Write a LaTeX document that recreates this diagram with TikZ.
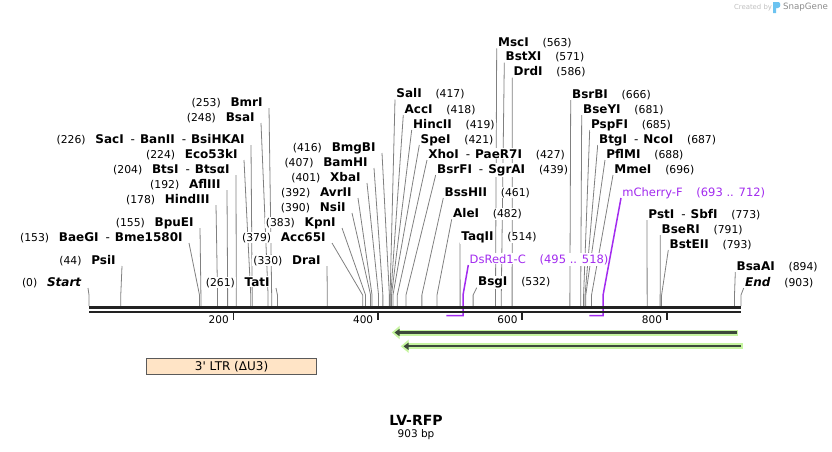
\documentclass[tikz,border=0pt]{standalone}
\usepackage{fontspec}
\setmainfont{DejaVu Sans}
\usetikzlibrary{arrows.meta, positioning, backgrounds}
\definecolor{csite}{HTML}{808080}
\definecolor{cruler}{HTML}{222222}
\definecolor{cprimer}{HTML}{A22BEF}
\definecolor{cfeat}{HTML}{C6F5A0}
\definecolor{cfeatline}{HTML}{3C4A3A}
\definecolor{cltr}{HTML}{FFE4C6}
\definecolor{cgrey}{HTML}{5A5A5A}
\definecolor{clogo}{HTML}{6CC3F0}
\newcommand{\dsh}{\hspace{7pt}\textmd{-}\hspace{5pt}}
\newcommand{\bpx}[1]{89+#1*0.72204}
\tikzset{
  every picture/.style={x=1pt, y=-1pt, line width=0.8pt},
  enz/.style={font=\fontsize{12}{14}\selectfont\bfseries, fill=white, inner sep=1pt},
  bpnum/.style={font=\fontsize{10.8}{13}\selectfont, fill=white, inner sep=1pt},
  lead/.style={draw=csite, line width=0.8pt},
  primer/.style={font=\fontsize{11.5}{13}\selectfont, text=cprimer, fill=white, inner sep=1pt},
  plead/.style={draw=cprimer, line width=1.5pt},
  feat/.style={draw=cfeat, line width=6pt, -{Triangle[length=8pt, width=13pt]}},
  featline/.style={draw=cfeatline, line width=2.3pt, -{Triangle[length=5pt, width=7pt]}},
  ltr/.style={draw=cgrey, fill=cltr, line width=0.9pt, minimum width=170pt, minimum height=16pt, inner sep=0pt, font=\fontsize{12}{14}\selectfont},
}

\begin{document}
\begin{tikzpicture}
  \useasboundingbox (0,0) rectangle (832,451);
  % cut sites, position left of the name
  \foreach \p/\lx/\ly/\nm/\nb in {0/83/282/{\textit{Start}}/(0), 44/117/260/PsiI/(44),
      153/184/237/{BaeGI\dsh Bme1580I}/(153), 155/195/222/BpuEI/(155), 178/211/199/HindIII/(178),
      192/222/184/AflIII/(192), 204/231/169/{BtsI\dsh BtsαI}/(204), 224/239/154/Eco53kI/(224),
      226/246/139/{SacI\dsh BanII\dsh BsiHKAI}/(226), 248/256/117/BsaI/(248), 253/264/102/BmrI/(253),
      261/271/282/TatI/(261), 330/322/260/DraI/(330), 379/327/237/Acc65I/(379), 383/337/222/KpnI/(383),
      390/347/207/NsiI/(390), 392/353/192/AvrII/(392), 401/362/177/XbaI/(401),
      407/369/162/BamHI/(407), 416/377/147/BmgBI/(416)}{
    \node[enz, anchor=base east] (c\p) at (\lx,\ly+4) {\nm};
    \node[bpnum, base left=7pt of c\p] (n\p) {\nb};
    \begin{scope}[on background layer]
      \draw[lead] ([xshift=5pt, yshift=-2pt]c\p.base east) -- ({\bpx{\p}},295) -- ({\bpx{\p}},306);
    \end{scope}
  }
  % cut sites, position right of the name
  \foreach \p/\lx/\ly/\nm/\nb in {417/395/93.5/SalI/(417), 418/403.3/109/AccI/(418),
      419/411.7/124/HincII/(419), 421/419.3/139/SpeI/(421), 427/427/154/{XhoI\dsh PaeR7I}/(427),
      439/435.7/169/{BsrFI\dsh SgrAI}/(439), 461/443.3/192/BssHII/(461), 482/451.7/213.3/AleI/(482),
      514/460/236.7/TaqII/(514), 532/476.7/281.7/BsgI/(532), 563/496.7/42.3/MscI/(563),
      571/504.3/56.7/BstXI/(571), 586/512.3/71.7/DrdI/(586), 666/570.7/94/BsrBI/(666),
      681/581.7/109/BseYI/(681), 685/589.7/124/PspFI/(685), 687/597.7/139/{BtgI\dsh NcoI}/(687),
      688/605/154/PflMI/(688), 696/613/169/MmeI/(696), 773/647/214/{PstI\dsh SbfI}/(773),
      791/660.3/229/BseRI/(791), 793/668.3/244/BstEII/(793), 894/735.3/266/BsaAI/(894),
      903/743.7/282/{\textit{End}}/(903)}{
    \node[enz, anchor=base west] (c\p) at (\lx,\ly+4) {\nm};
    \node[bpnum, base right=11pt of c\p] (n\p) {\nb};
    \begin{scope}[on background layer]
      \draw[lead] ([yshift=-2pt]c\p.base west) -- ({\bpx{\p}},295) -- ({\bpx{\p}},306);
    \end{scope}
  }
  % primers
  \node[primer, anchor=base west] (p495) at (468.3,263) {DsRed1-C};
  \node[primer, base right=11pt of p495] (r495) {(495 .. 518)};
  \node[primer, anchor=base west] (p693) at (621,196) {mCherry-F};
  \node[primer, base right=11pt of p693] (r693) {(693 .. 712)};
  \draw[plead] ([yshift=-2pt]p495.base west) -- ({\bpx{518}},295) -- ({\bpx{518}},315.5) -- ({\bpx{495}},315.5);
  \draw[plead] ([yshift=-2pt]p693.base west) -- ({\bpx{712}},295) -- ({\bpx{712}},315.5) -- ({\bpx{693}},315.5);
  % ruler
  \draw[cruler, line width=3pt] (89,307.5) -- (741,307.5);
  \draw[cruler, line width=2.6pt] (89,312) -- (741,312);
  \foreach \t in {200,400,600,800}{
    \draw[cruler, line width=1.8pt] ({\bpx{\t}},312) -- ({\bpx{\t}},320);
    \node[bpnum, fill=none, font=\fontsize{10.5}{12}\selectfont, anchor=base east] (t\t) at ({\bpx{\t}-3.3},323) {\t};
  }
  % features
  \coordinate (f1s) at (738.3,332.5); \coordinate (f1e) at (391.7,332.5);
  \coordinate (f2s) at (742.7,346.3); \coordinate (f2e) at (400.7,346.3);
  \draw[feat] (f1s) -- (f1e); \draw[featline] ([xshift=-1.6pt]f1s) -- ([xshift=2.8pt]f1e);
  \draw[feat] (f2s) -- (f2e); \draw[featline] ([xshift=-1.6pt]f2s) -- ([xshift=2.8pt]f2e);
  \node[ltr] (ltr) at (231.6,366.3) {3\textquotesingle{} LTR (ΔU3)};
  % title
  \node[font=\fontsize{14}{16}\selectfont\bfseries] (title) at (416,420.7) {LV-RFP};
  \node[font=\fontsize{10.5}{12}\selectfont] (len) at (416,435) {903 bp};
  % watermark
  \node[font=\fontsize{6.9}{8}\selectfont, text=black!25, inner sep=0pt] (made) at (753,7.5) {Created by};
  \fill[clogo] (773,2) -- (778.5,2) .. controls (781,2) and (781,8) .. (778,8) -- (776,8) -- (776,13) -- (773,13) -- cycle;
  \node[font=\fontsize{8.7}{10}\selectfont, text=black!45, inner sep=0pt] (brand) at (805.5,7.5) {SnapGene};
\end{tikzpicture}
\end{document}
